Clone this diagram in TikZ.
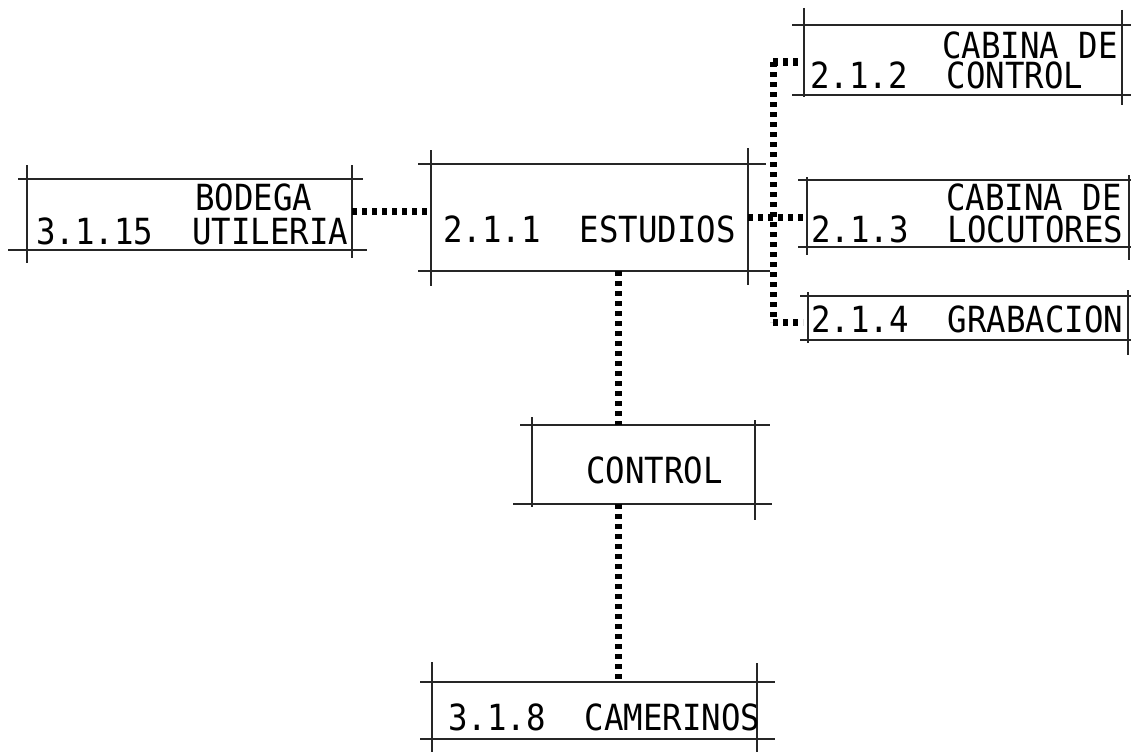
\documentclass[tikz,border=0pt]{standalone}
\usepackage{fontspec}
\newfontfamily\plotfont[FakeStretch=0.9]{DejaVu Sans Mono}
\begin{document}
\begin{tikzpicture}[x=1pt,y=-1pt,
  rule/.style={line width=1.1pt,draw=black!85},
  area/.style={rectangle,inner sep=0pt,outer sep=0pt},
  lbl/.style={anchor=base west,inner sep=0pt,text height=26pt,text depth=0pt,font=\plotfont\fontsize{36}{30}\selectfont},
  conn/.style={line width=7pt,dash pattern=on 5pt off 5pt,black}]
\useasboundingbox (0,0) rectangle (1131,752);
\fill[white] (0,0) rectangle (1131,752);
% ---------- box areas (between the extended ruling lines)
\node[area,minimum width=325pt,minimum height=71pt] (bodega) at (189.5,214.5) {};
\node[area,minimum width=317pt,minimum height=107pt] (estudios) at (589.5,217.5) {};
\node[area,minimum width=318pt,minimum height=70pt] (cabctrl) at (963,60) {};
\node[area,minimum width=322pt,minimum height=67pt] (cabloc) at (968,213.5) {};
\node[area,minimum width=320pt,minimum height=44pt] (grab) at (968,318) {};
\node[area,minimum width=223pt,minimum height=79pt] (control) at (643.5,464.5) {};
\node[area,minimum width=325pt,minimum height=57pt] (camer) at (594.5,710.5) {};
% ---------- ruling lines
% Bodega
\draw[rule] (27,165) -- (27,263);
\draw[rule] (352,165) -- (352,258);
\draw[rule] (18,179) -- (363,179);
\draw[rule] (8,250) -- (367,250);
% Estudios
\draw[rule] (431,150) -- (431,286);
\draw[rule] (748,148) -- (748,285);
\draw[rule] (418,164) -- (766,164);
\draw[rule] (418,271) -- (770,271);
% Cabina de control
\draw[rule] (804,8) -- (804,97);
\draw[rule] (1122,10) -- (1122,105);
\draw[rule] (792,25) -- (1131,25);
\draw[rule] (792,95) -- (1131,95);
% Cabina de locutores
\draw[rule] (807,177) -- (807,255);
\draw[rule] (1129,175) -- (1129,260);
\draw[rule] (798,180) -- (1131,180);
\draw[rule] (798,247) -- (1131,247);
% Grabacion
\draw[rule] (808,292) -- (808,343);
\draw[rule] (1128,290) -- (1128,355);
\draw[rule] (800,296) -- (1131,296);
\draw[rule] (800,340) -- (1131,340);
% Control
\draw[rule] (532,417) -- (532,507);
\draw[rule] (755,420) -- (755,520);
\draw[rule] (520,425) -- (770,425);
\draw[rule] (513,504) -- (772,504);
% Camerinos
\draw[rule] (432,662) -- (432,752);
\draw[rule] (757,663) -- (757,752);
\draw[rule] (420,682) -- (775,682);
\draw[rule] (420,739) -- (775,739);
% ---------- texts
\node[lbl] (tbod1) at (195,210) {BODEGA};
\node[lbl] (tbod2) at (36,244) {3.1.15\ \ UTILERIA};
\node[lbl] (test) at (443,242) {2.1.1\ \ ESTUDIOS};
\node[lbl] (tcc1) at (942,59) {CABINA DE};
\node[lbl] (tcc2) at (810,88) {2.1.2\ \ CONTROL};
\node[lbl] (tcl1) at (946,210) {CABINA DE};
\node[lbl] (tcl2) at (811,242) {2.1.3\ \ LOCUTORES};
\node[lbl] (tgr) at (811,332) {2.1.4\ \ GRABACION};
\node[lbl] (tcon) at (586,483) {CONTROL};
\node[lbl] (tcam) at (448,730) {3.1.8\ \ CAMERINOS};
% ---------- connectors
\coordinate (yb) at (0,211);
\coordinate (yl) at (0,217);
\coordinate (ttop) at (773,62);
\coordinate (tbot) at (773,322);
\coordinate (xc) at (618,0);
\draw[conn] (bodega.east |- yb) -- (estudios.west |- yb);
\draw[conn] (estudios.east |- yl) -- (cabloc.west |- yl);
\draw[conn] (ttop) -- (tbot);
\draw[conn] (ttop) -- ([xshift=-5pt]cabctrl.west |- ttop);
\draw[conn] (tbot) -- ([xshift=-5pt]grab.west |- tbot);
\draw[conn] (estudios.south -| xc) -- (control.north -| xc);
\draw[conn] (control.south -| xc) -- (camer.north -| xc);
\end{tikzpicture}
\end{document}
